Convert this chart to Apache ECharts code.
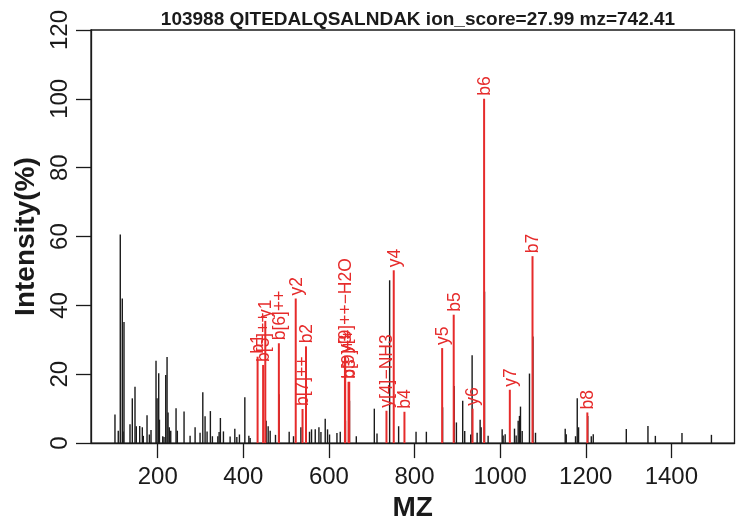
<!DOCTYPE html>
<html><head><meta charset="utf-8">
<script src="https://cdn.jsdelivr.net/npm/echarts@6/dist/echarts.min.js"></script>
<style>html,body{margin:0;padding:0;background:#fff}#c{width:745px;height:527px}</style>
</head><body><div id="c"></div>
<script>
const titleText = '103988 QITEDALQSALNDAK ion_score=27.99 mz=742.41';
const xAxisName = 'MZ';
const yAxisName = 'Intensity(%)';
const xTicks = [200, 400, 600, 800, 1000, 1200, 1400];
const yTicks = [0, 20, 40, 60, 80, 100, 120];

// unmatched (black) peaks
const peakMz = [100.1, 107.8, 112.5, 117.2, 121.2, 119.0, 135.2, 140.6, 146.9, 150.0, 157.9, 164.0, 166.3, 175.0, 180.4, 184.3,
  196.0, 198.5, 202.3, 204.0, 211.7, 214.7, 218.7, 221.8, 224.1, 227.1, 230.4, 242.8, 245.8, 261.5, 275.6, 287.3, 298.9,
  305.3, 310.6, 315.3, 323.0, 327.7, 340.4, 343.4, 346.4, 353.5, 369.1, 380.1, 384.8, 390.9, 403.5, 412.9, 415.9,
  453.3, 458.0, 462.7, 475.1, 507.1, 517.2, 534.5, 554.6, 559.3, 568.0, 576.6, 581.3, 591.3, 596.7, 601.4, 618.7, 626.4,
  663.9, 706.0, 712.3, 741.8, 762.8, 803.5, 827.6, 897.8, 912.5, 917.2, 931.2, 934.5, 946.2, 953.2, 955.6, 971.9,
  1004.7, 1007.0, 1011.7, 1033.5, 1037.4, 1042.1, 1045.1, 1047.5, 1051.5, 1068.5, 1082.6, 1152.0, 1154.4, 1176.1,
  1180.1, 1183.2, 1212.9, 1217.5, 1294.7, 1345.3, 1362.6, 1424.8, 1493.6,
  963.5, 1076.6, 892.5, 865.5, 483.5, 648.0, 638.5, 1204.6];
const peakIntensity = [8.3, 3.6, 60.6, 42.0, 35.2, 3.4, 5.5, 13.0, 16.4, 4.9, 5.0, 4.6, 2.1, 8.1, 2.5, 3.8,
  23.9, 13.0, 20.3, 6.8, 2.0, 1.8, 19.8, 25.0, 8.9, 4.6, 3.6, 10.1, 3.6, 9.2, 2.1, 4.6, 3.0,
  14.8, 7.8, 3.4, 9.3, 2.0, 2.0, 3.2, 7.3, 3.4, 1.9, 4.2, 1.8, 2.5, 13.3, 2.1, 1.5,
  6.5, 4.9, 3.6, 2.4, 3.3, 2.0, 4.6, 3.3, 4.0, 4.0, 4.6, 3.2, 7.1, 4.0, 2.5, 2.9, 3.3,
  2.0, 10.0, 2.8, 47.3, 4.9, 3.3, 3.3, 6.0, 12.3, 3.5, 2.5, 25.5, 3.0, 6.8, 4.6, 2.1,
  4.0, 2.2, 2.6, 4.2, 2.2, 6.5, 7.9, 10.6, 3.5, 20.2, 3.0, 4.2, 2.6, 2.0,
  13.0, 4.6, 2.0, 2.6, 4.1, 5.0, 2.1, 2.9, 2.4,
  44.0, 31.0, 16.6, 10.4, 14.2, 12.3, 6.5, 7.9];

// matched (red) fragment ions
const ionLabels = ['b1', 'b[5]++', 'y1', 'b[6]++', 'y2', 'b[7]++', 'b2', 'y3', 'y[9]++\u2212H2O', 'b[9]++', 'b3',
  'y[4]\u2212NH3', 'y4', 'b4', 'y5', 'b5', 'y6', 'b6', 'y7', 'b7', 'b8'];
const ionMz = [433.3, 446.2, 451.3, 483.0, 522.4, 538.3, 546.4, 637.4, 638.0, 645.8, 647.4,
  734.4, 751.4, 776.4, 864.5, 891.5, 935.5, 962.5, 1022.6, 1075.6, 1203.7];
const ionIntensity = [25.1, 22.7, 35.5, 29.0, 42.0, 9.9, 28.1, 25.3, 25.3, 17.8, 17.8,
  9.4, 50.2, 9.1, 27.6, 37.3, 10.0, 100.0, 15.5, 54.3, 8.9];

const FONT = '"Liberation Sans", Arial, Helvetica, sans-serif';
const RED = '#e62b2b';
const INK = '#1a1a1a';

const chart = echarts.init(document.getElementById('c'), null, {renderer: 'canvas'});
chart.setOption({
  animation: false,
  backgroundColor: '#fff',
  title: {
    text: titleText, left: 413, top: 5, textAlign: 'center',
    textStyle: {fontFamily: FONT, fontSize: 19, fontWeight: 'bold', color: INK}
  },
  grid: {left: 91, right: 10.5, top: 30, bottom: 83, show: true, borderColor: INK, borderWidth: 1.3, backgroundColor: 'transparent'},
  xAxis: {
    type: 'value', min: 44.1, max: 1547.5,
    name: xAxisName, nameLocation: 'middle', nameGap: 46,
    nameTextStyle: {fontFamily: FONT, fontSize: 28, fontWeight: 'bold', color: INK},
    axisLine: {show: true, onZero: false, lineStyle: {color: INK, width: 1.3}},
    axisTick: {show: true, length: 15, inside: false, customValues: xTicks, lineStyle: {color: INK, width: 1.3}},
    axisLabel: {show: true, customValues: xTicks, margin: 22, fontFamily: FONT, fontSize: 24, color: INK,
      formatter: function (v) { return String(v); }},
    splitLine: {show: false}
  },
  yAxis: {
    type: 'value', min: 0, max: 120, interval: 20,
    name: yAxisName, nameLocation: 'middle', nameGap: 50, nameRotate: 90,
    nameTextStyle: {fontFamily: FONT, fontSize: 28, fontWeight: 'bold', color: INK},
    axisLine: {show: true, lineStyle: {color: INK, width: 1.3}},
    axisTick: {show: true, length: 15, lineStyle: {color: INK, width: 1.3}},
    axisLabel: {show: true, rotate: 90, margin: 19, fontFamily: FONT, fontSize: 24, color: INK,
      formatter: function (v) { return yTicks.indexOf(v) >= 0 ? String(v) : ''; }},
    splitLine: {show: false}
  },
  series: [
    {
      type: 'custom', name: 'peaks', clip: false,
      data: peakMz.map(function (m, i) { return [m, peakIntensity[i]]; }),
      encode: {x: 0, y: 1},
      renderItem: function (params, api) {
        const p0 = api.coord([api.value(0), 0]);
        const p1 = api.coord([api.value(0), api.value(1)]);
        return {type: 'line', shape: {x1: p0[0], y1: p0[1], x2: p1[0], y2: p1[1]},
          style: {stroke: INK, lineWidth: 1.4}};
      }
    },
    {
      type: 'custom', name: 'ions', clip: false,
      data: ionMz.map(function (m, i) { return [m, ionIntensity[i]]; }),
      encode: {x: 0, y: 1},
      renderItem: function (params, api) {
        const p0 = api.coord([api.value(0), 0]);
        const p1 = api.coord([api.value(0), api.value(1)]);
        return {type: 'group', children: [
          {type: 'line', shape: {x1: p0[0], y1: p0[1], x2: p1[0], y2: p1[1]},
            style: {stroke: RED, lineWidth: 2}},
          {type: 'text', x: p1[0] + 1, y: p1[1] - 3, rotation: Math.PI / 2,
            style: {text: ionLabels[params.dataIndex], fill: RED, font: '17.5px ' + FONT,
              align: 'left', verticalAlign: 'middle'}}
        ]};
      }
    }
  ]
});
</script></body></html>
